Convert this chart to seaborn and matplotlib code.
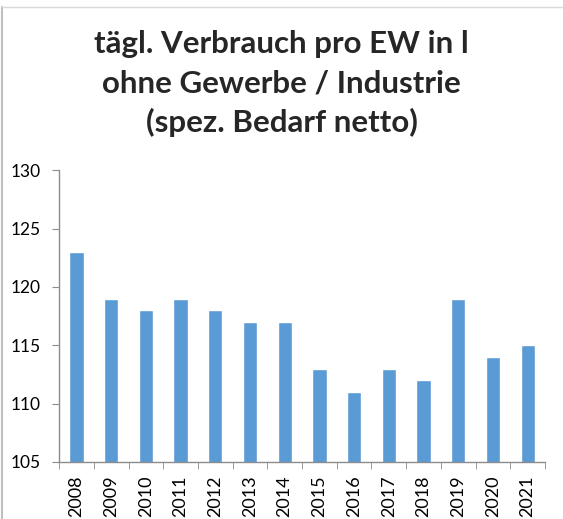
import matplotlib
matplotlib.use("Agg")
import matplotlib.pyplot as plt
import seaborn as sns
import pandas as pd

years = ["2008", "2009", "2010", "2011", "2012", "2013", "2014",
         "2015", "2016", "2017", "2018", "2019", "2020", "2021"]
verbrauch = [123, 119, 118, 119, 118, 117, 117, 113, 111, 113, 112, 119, 114, 115]
y_ticks = [105, 110, 115, 120, 125, 130]

df = pd.DataFrame({"Jahr": years, "Verbrauch": verbrauch})

sns.set_style("white")
plt.rcParams["font.family"] = ["Lato", "DejaVu Sans"]

fig = plt.figure(figsize=(5.63, 5.19), dpi=100)
ax = fig.add_axes([0.105, 0.110, 0.863, 0.562])

sns.barplot(data=df, x="Jahr", y="Verbrauch", color="#5B9BD5", width=0.41,
            saturation=1, ax=ax)

ax.set_ylim(105, 130)
ax.set_yticks(y_ticks)
ax.set_xlim(-0.5, len(years) - 0.5)
ax.set_xlabel("")
ax.set_ylabel("")

for s in ["top", "right"]:
    ax.spines[s].set_visible(False)
for s in ["left", "bottom"]:
    ax.spines[s].set_color("#8c8c8c")
    ax.spines[s].set_linewidth(1.0)

ax.tick_params(axis="y", left=True, length=5, color="#8c8c8c", labelsize=12.5,
               pad=8, labelcolor="black")
ax.tick_params(axis="x", bottom=False, labelsize=13, labelrotation=90,
               pad=6, labelcolor="black")
# x ticks between categories
ax.set_xticks([i - 0.5 for i in range(len(years) + 1)], minor=True)
ax.tick_params(axis="x", which="minor", bottom=True, length=5, color="#8c8c8c")

title_lines = ["tägl. Verbrauch pro EW in l",
               "ohne Gewerbe / Industrie",
               "(spez. Bedarf netto)"]
for yy, line in zip([0.915, 0.84, 0.765], title_lines):
    fig.text(0.5, yy, line, ha="center", va="center",
             fontsize=22.5, fontweight="bold")

# thin frame lines of the original chart area
fig.add_artist(plt.Line2D([0.004, 0.004], [0, 0.987], color="#bfbfbf", lw=1.5))
fig.add_artist(plt.Line2D([0.004, 1], [0.987, 0.987], color="#d9d9d9", lw=1))

fig.savefig("out.png", dpi=100)
